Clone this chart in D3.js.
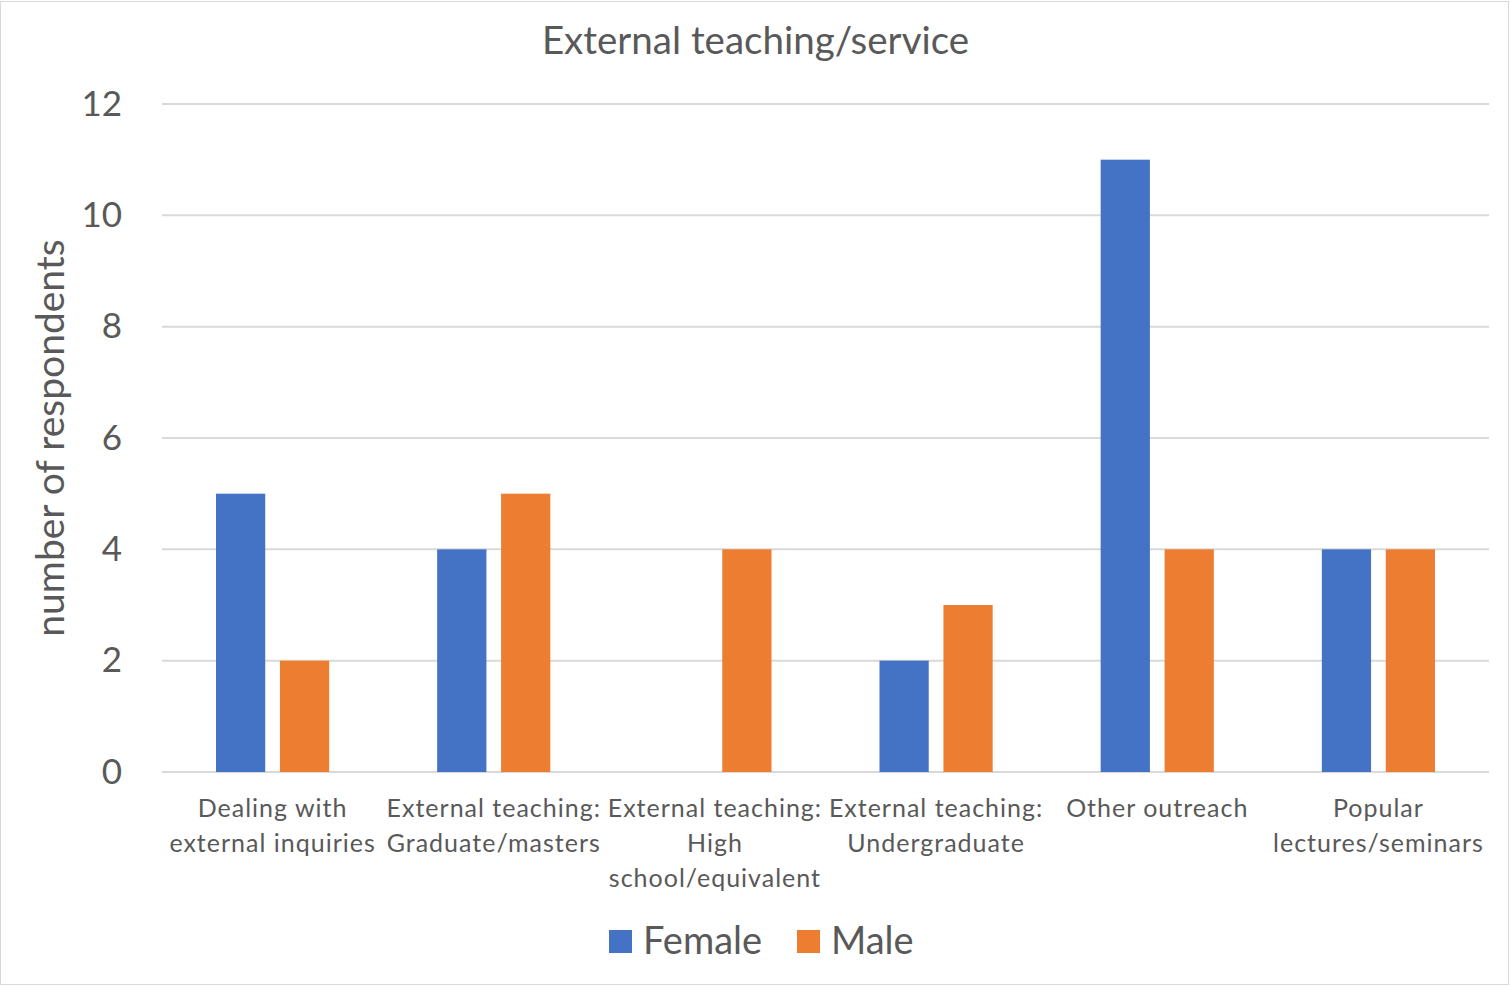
<!DOCTYPE html>
<html>
<head>
<meta charset="utf-8">
<script src="https://cdn.jsdelivr.net/npm/d3@7"></script>
<style>
  body { margin: 0; background: #fff; }
  text { font-family: Lato, "Open Sans", sans-serif; fill: #595959; }
</style>
</head>
<body>
<script>
// Chart data
const categories = [
    ["Dealing with", "external inquiries"],
    ["External teaching:", "Graduate/masters"],
    ["External teaching:", "High", "school/equivalent"],
    ["External teaching:", "Undergraduate"],
    ["Other outreach"],
    ["Popular", "lectures/seminars"]
];
const female = [5, 4, 0, 2, 11, 4];
const male = [2, 5, 4, 3, 4, 4];
const series = ["Female", "Male"];
const colors = ["#4472C4", "#ED7D31"];
const yTicks = [0, 2, 4, 6, 8, 10, 12];

const W = 1511, H = 986;
const margin = { top: 104, right: 22, bottom: 214, left: 162 };
const width = W - margin.left - margin.right;
const height = H - margin.top - margin.bottom;

const svg = d3.select("body").append("svg")
    .attr("width", W)
    .attr("height", H);

// chart border
svg.append("rect")
    .attr("x", 0.5).attr("y", 1.5)
    .attr("width", W - 3).attr("height", H - 3)
    .attr("fill", "#fff")
    .attr("stroke", "#d9d9d9");

const g = svg.append("g")
    .attr("transform", `translate(${margin.left},${margin.top})`);

const x = d3.scaleBand()
    .domain(d3.range(categories.length))
    .range([0, width])
    .paddingInner(0)
    .paddingOuter(0);

const x1 = d3.scaleBand()
    .domain(series)
    .range([54, x.bandwidth() - 54])
    .paddingInner(0.23);

const y = d3.scaleLinear()
    .domain([0, 12])
    .range([height, 0]);

// gridlines
g.selectAll(".grid")
    .data(yTicks)
    .enter()
    .append("line")
    .attr("x1", 0)
    .attr("x2", width)
    .attr("y1", d => y(d))
    .attr("y2", d => y(d))
    .attr("stroke", "#d9d9d9")
    .attr("stroke-width", 2);

// y axis labels
g.append("g")
    .call(d3.axisLeft(y).tickValues(yTicks).tickSize(0).tickPadding(40))
    .call(s => s.select(".domain").remove())
    .selectAll("text")
    .style("font-size", "35px")
    .attr("fill", "#595959")
    .attr("text-anchor", "end");

// bars
const data = categories.map((c, i) => ({ i, Female: female[i], Male: male[i] }));
const groups = g.selectAll(".cat")
    .data(data)
    .enter()
    .append("g")
    .attr("transform", d => `translate(${x(d.i)},0)`);

groups.selectAll("rect")
    .data(d => series.map((s, k) => ({ s, k, v: d[s] })))
    .enter()
    .append("rect")
    .attr("x", d => x1(d.s))
    .attr("y", d => y(d.v))
    .attr("width", x1.bandwidth())
    .attr("height", d => height - y(d.v))
    .attr("fill", d => colors[d.k]);

// category labels
const labels = g.selectAll(".xlab")
    .data(categories)
    .enter()
    .append("text")
    .attr("x", (d, i) => x(i) + x.bandwidth() / 2)
    .attr("y", height + 45)
    .attr("text-anchor", "middle")
    .style("font-size", "25px")
    .style("letter-spacing", "1px");

labels.selectAll("tspan")
    .data(d => d)
    .enter()
    .append("tspan")
    .attr("x", function() { return d3.select(this.parentNode).attr("x"); })
    .attr("dy", (d, i) => i === 0 ? 0 : 35)
    .text(d => d);

// title
svg.append("text")
    .attr("x", W / 2)
    .attr("y", 54)
    .attr("text-anchor", "middle")
    .style("font-size", "38.5px")
    .text("External teaching/service");

// y axis title
svg.append("text")
    .attr("transform", `translate(64,${margin.top + height / 2}) rotate(-90)`)
    .attr("text-anchor", "middle")
    .style("font-size", "39px")
    .text("number of respondents");

// legend
const legend = svg.append("g");
const legendX = [609, 797];
series.forEach((s, k) => {
    legend.append("rect")
        .attr("x", legendX[k])
        .attr("y", 930)
        .attr("width", 23)
        .attr("height", 23)
        .attr("fill", colors[k]);
    legend.append("text")
        .attr("x", legendX[k] + 34)
        .attr("y", 954)
        .style("font-size", "38px")
        .text(s);
});
</script>
</body>
</html>
